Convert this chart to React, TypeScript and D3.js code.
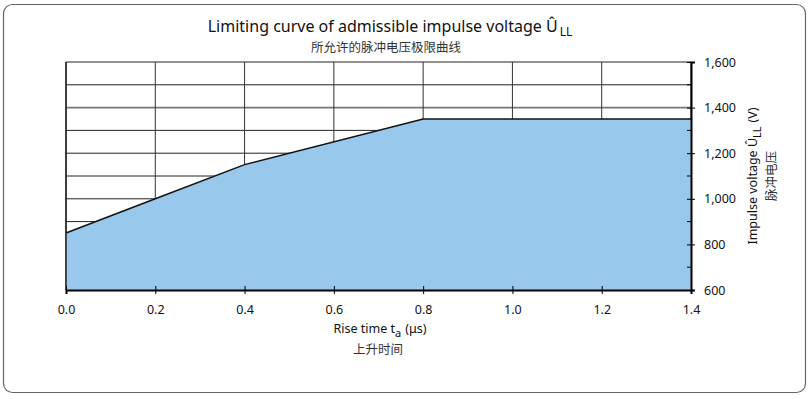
import { useEffect, useRef } from 'react'
import * as d3 from 'd3'

const riseTimes = [0, 0.2, 0.4, 0.8, 1.4]
const voltages = [850, 1000, 1150, 1350, 1350]
const xTicks = [0, 0.2, 0.4, 0.6, 0.8, 1.0, 1.2, 1.4]
const yTicks = [600, 800, 1000, 1200, 1400, 1600]
const yGrid = [800, 900, 1000, 1100, 1200, 1300, 1400, 1500, 1600]

const FONT = "'Noto Sans', 'Open Sans', sans-serif"
const CJK = "'Noto Sans CJK SC', sans-serif"

export default function App() {
  const svgRef = useRef<SVGSVGElement>(null)

  useEffect(() => {
    if (!svgRef.current) return
    const svg = d3.select(svgRef.current)
    svg.selectAll('*').remove()

    const margin = { top: 62, right: 119, bottom: 109, left: 66 }
    const width = 810
    const height = 399
    const innerWidth = width - margin.left - margin.right
    const innerHeight = height - margin.top - margin.bottom

    // outer frame
    svg.append('rect')
      .attr('x', 3.5).attr('y', 4.5)
      .attr('width', 802).attr('height', 388)
      .attr('rx', 9)
      .attr('fill', 'white')
      .attr('stroke', '#666')
      .attr('stroke-width', 1.2)

    const x = d3.scaleLinear().domain([0, 1.4]).range([0, innerWidth])
    const y = d3.scaleLinear().domain([600, 1600]).range([innerHeight, 0])

    const g = svg.append('g').attr('transform', `translate(${margin.left},${margin.top})`)

    // grid
    g.selectAll('.hgrid')
      .data(yGrid)
      .enter()
      .append('line')
      .attr('x1', 0).attr('x2', innerWidth)
      .attr('y1', d => y(d)).attr('y2', d => y(d))
      .attr('stroke', d => (d === 1400 ? '#777' : '#222'))
      .attr('stroke-width', d => (d === 1400 ? 1.6 : 1))

    g.selectAll('.vgrid')
      .data(xTicks)
      .enter()
      .append('line')
      .attr('x1', d => x(d)).attr('x2', d => x(d))
      .attr('y1', 0).attr('y2', innerHeight)
      .attr('stroke', '#333')
      .attr('stroke-width', 1)

    const pts = riseTimes.map((t, i) => ({ t, v: voltages[i] }))

    const area = d3.area<{ t: number; v: number }>()
      .x(d => x(d.t))
      .y0(innerHeight)
      .y1(d => y(d.v))

    g.append('path')
      .datum(pts)
      .attr('fill', '#98c9ec')
      .attr('d', area)

    const line = d3.line<{ t: number; v: number }>()
      .x(d => x(d.t))
      .y(d => y(d.v))

    g.append('path')
      .datum(pts)
      .attr('fill', 'none')
      .attr('stroke', '#111')
      .attr('stroke-width', 1.5)
      .attr('d', line)

    // left border
    g.append('line')
      .attr('x1', 0).attr('x2', 0).attr('y1', 0).attr('y2', innerHeight)
      .attr('stroke', '#222').attr('stroke-width', 1.5)

    // bottom axis
    const xAxis = g.append('g')
      .attr('transform', `translate(0,${innerHeight})`)
      .call(d3.axisBottom(x).tickValues(xTicks).tickSize(4).tickFormat(d => d3.format('.1f')(d as number)))
    xAxis.select('.domain').attr('stroke', '#000').attr('stroke-width', 2)
    xAxis.selectAll('.tick line').attr('y1', -4).attr('stroke', '#000')
    xAxis.selectAll('.tick text')
      .attr('y', 15)
      .attr('font-family', FONT).attr('font-size', 12.5).attr('fill', '#111')

    // right axis
    const yAxis = g.append('g')
      .attr('transform', `translate(${innerWidth},0)`)
      .call(d3.axisRight(y).tickValues(yTicks).tickSize(4).tickFormat(d => d3.format(',')(d as number)))
    yAxis.select('.domain').attr('stroke', '#000').attr('stroke-width', 2)
    yAxis.selectAll('.tick line').attr('x1', -4).attr('stroke', '#000')
    yAxis.selectAll('.tick text')
      .attr('x', 13)
      .attr('font-family', FONT).attr('font-size', 12.5).attr('fill', '#111')

    // minor ticks on right axis
    g.selectAll('.minor')
      .data([700, 900, 1100, 1300, 1500])
      .enter()
      .append('line')
      .attr('x1', innerWidth - 4).attr('x2', innerWidth)
      .attr('y1', d => y(d)).attr('y2', d => y(d))
      .attr('stroke', '#000')

    // title
    const title = svg.append('text')
      .attr('x', 390).attr('y', 32)
      .attr('text-anchor', 'middle')
      .attr('font-family', FONT).attr('font-size', 16).attr('fill', '#111')
    title.append('tspan').text('Limiting curve of admissible impulse voltage Û')
    title.append('tspan').attr('dy', 4).attr('dx', 2).attr('font-size', 12).text('LL')

    svg.append('text')
      .attr('x', 386).attr('y', 52)
      .attr('text-anchor', 'middle')
      .attr('font-family', CJK).attr('font-size', 12.5).attr('fill', '#333')
      .text('所允许的脉冲电压极限曲线')

    // x axis title
    const xt = svg.append('text')
      .attr('x', 380).attr('y', 333)
      .attr('text-anchor', 'middle')
      .attr('font-family', FONT).attr('font-size', 12.5).attr('fill', '#111')
    xt.append('tspan').text('Rise time t')
    xt.append('tspan').attr('dy', 4).attr('font-size', 11).text('a')
    xt.append('tspan').attr('dy', -4).attr('dx', 4).text('(μs)')

    svg.append('text')
      .attr('x', 378).attr('y', 354)
      .attr('text-anchor', 'middle')
      .attr('font-family', CJK).attr('font-size', 12.5).attr('fill', '#333')
      .text('上升时间')

    // y axis title
    const yt = svg.append('text')
      .attr('transform', 'translate(757,176) rotate(-90)')
      .attr('text-anchor', 'middle')
      .attr('font-family', FONT).attr('font-size', 12.5).attr('fill', '#111')
    yt.append('tspan').text('Impulse voltage Û')
    yt.append('tspan').attr('dy', 4).attr('font-size', 11).text('LL')
    yt.append('tspan').attr('dy', -4).attr('dx', 4).text('(V)')

    svg.append('text')
      .attr('transform', 'translate(776,176) rotate(-90)')
      .attr('text-anchor', 'middle')
      .attr('font-family', CJK).attr('font-size', 12.5).attr('fill', '#333')
      .text('脉冲电压')
  }, [])

  return (
    <svg
      ref={svgRef}
      width={810}
      height={399}
      style={{ position: 'absolute', left: 0, top: 0 }}
    />
  )
}
